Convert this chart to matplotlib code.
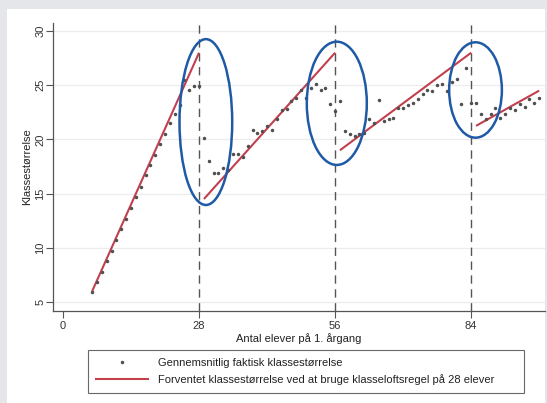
import matplotlib
matplotlib.use('Agg')
import matplotlib.pyplot as plt
from matplotlib.lines import Line2D
from matplotlib.patches import Ellipse, Rectangle

# antal elever paa 1. aargang og gennemsnitlig faktisk klassestoerrelse
elever = list(range(6, 99))
faktisk = [5.95, 6.85, 7.8, 8.8, 9.75, 10.75, 11.7, 12.65, 13.65, 14.65,
           15.6, 16.7, 17.6, 18.6, 19.6, 20.5, 21.5, 22.35, 23.2, 25.5,
           24.6, 24.95, 24.95, 20.1, 18.0, 16.9, 16.9, 17.4, 17.2, 18.7,
           18.65, 18.4, 19.4, 20.9, 20.6, 20.8, 21.2, 20.9, 21.85, 22.75,
           22.85, 23.55, 23.85, 24.6, 23.85, 24.7, 25.1, 24.6, 24.7, 23.3,
           22.6, 23.5, 20.8, 20.5, 20.3, 20.5, 20.6, 21.9, 21.5, 23.6,
           21.7, 21.9, 22.0, 22.9, 22.9, 23.2, 23.4, 23.7, 24.2, 24.55,
           24.5, 25.0, 25.1, 24.5, 25.3, 25.6, 23.25, 26.55, 23.4, 23.35,
           22.3, 21.9, 22.3, 22.9, 22.0, 22.35, 22.9, 22.7, 23.25, 23.0,
           23.7, 23.4, 23.85]

# forventet klassestoerrelse, et linjestykke pr. antal klasser
seg_x_start = [6, 29, 57, 85]
seg_x_end = [28, 56, 84, 98]
seg_y_start = [6, 14.5, 19, 21.25]
seg_y_end = [28, 28, 28, 24.5]

graenser = [28, 56, 84]

# markeringer (centrum x, centrum y, bredde, hoejde)
ring_x = [29.4, 56.35, 84.9]
ring_y = [21.6, 23.33, 24.56]
ring_w = [10.85, 12.35, 10.85]
ring_h = [15.3, 11.37, 8.8]

plt.rcParams['font.family'] = ['Liberation Sans', 'DejaVu Sans']

fig = plt.figure(figsize=(5.47, 4.03), dpi=100, facecolor='#e4e6e9')
bg = Rectangle((7 / 547, 0), 538 / 547, 1 - 9 / 403,
               transform=fig.transFigure, facecolor='white',
               edgecolor='none', zorder=-10)
fig.patches.append(bg)

ax = fig.add_axes([53 / 547, 1 - 311 / 403, 492 / 547, 288 / 403])
ax.set_facecolor('none')
ax.set_zorder(1)

for y in [5, 10, 15, 20, 25, 30]:
    ax.axhline(y, color='#ececec', lw=0.9, zorder=0)

for g in graenser:
    ax.axvline(g, color='#555555', lw=1.0, dashes=(6, 4), zorder=1)

red = '#c2404e'
for i in range(len(seg_x_start)):
    ax.plot([seg_x_start[i], seg_x_end[i]], [seg_y_start[i], seg_y_end[i]],
            color=red, lw=1.5, zorder=2, solid_capstyle='butt')

ax.plot(elever, faktisk, linestyle='none', marker='o', markersize=1.5,
        color='#505050', zorder=3)

for i in range(len(ring_x)):
    ax.add_patch(Ellipse((ring_x[i], ring_y[i]), ring_w[i], ring_h[i],
                         fill=False, edgecolor='#1f5aa6', lw=1.8, zorder=4))

ax.set_xlim(-2.06, 99.2)
ax.set_ylim(4.17, 30.74)
ax.set_xticks([0, 28, 56, 84])
ax.set_yticks([5, 10, 15, 20, 25, 30])
ax.tick_params(axis='both', direction='out', length=5, width=0.8,
               color='#555555', labelsize=8, labelcolor='#333333')
ax.tick_params(axis='x', pad=2)
ax.tick_params(axis='y', pad=0.5)
for lab in ax.get_yticklabels():
    lab.set_rotation(90)
    lab.set_va('center')

for side in ['top', 'right']:
    ax.spines[side].set_visible(False)
for side in ['left', 'bottom']:
    ax.spines[side].set_color('#555555')
    ax.spines[side].set_linewidth(0.9)

ax.set_xlabel('Antal elever på 1. årgang', fontsize=8, color='#222222', labelpad=2)
ax.set_ylabel('Klassestørrelse', fontsize=8, color='#222222', labelpad=2)

handles = [Line2D([], [], linestyle='none', marker='o', markersize=1.5, color='#505050'),
           Line2D([], [], color=red, lw=1.5)]
labels = ['Gennemsnitlig faktisk klassestørrelse',
          'Forventet klassestørrelse ved at bruge klasseloftsregel på 28 elever']
leg = fig.legend(handles, labels, loc='lower left', mode='expand',
                 bbox_to_anchor=(88 / 547, 1 - 393 / 403, 436 / 547, 47 / 403),
                 fontsize=8, frameon=True, fancybox=False, handlelength=4.7,
                 handletextpad=0.9, labelspacing=0.55, borderpad=0.7,
                 borderaxespad=0)
leg.get_frame().set_edgecolor('#444444')
leg.get_frame().set_linewidth(0.8)
for t in leg.get_texts():
    t.set_color('#222222')

fig.savefig('out.png', dpi=100, facecolor=fig.get_facecolor())
